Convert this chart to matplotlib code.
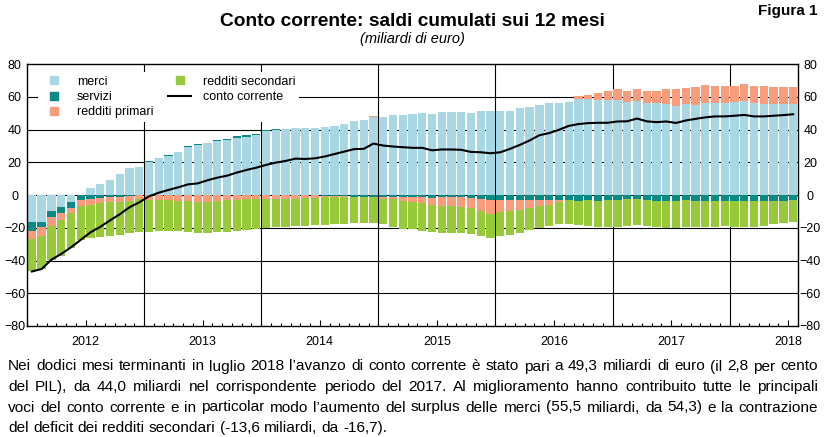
import numpy as np
import matplotlib.pyplot as plt
from matplotlib.lines import Line2D
from matplotlib import font_manager

plt.rcParams['font.family'] = ['Liberation Sans', 'DejaVu Sans']

# saldi cumulati sui 12 mesi, gen 2012 - lug 2018 (miliardi di euro)
merci = [-16.7, -16.3, -9.6, -7.1, -4.5, 0.3, 4.5, 6.7, 9.2, 12.9, 16.4, 17.3,
         20.4, 22.6, 24.0, 26.0, 29.4, 30.6, 31.5, 32.9, 33.8, 35.1, 35.7, 36.7,
         38.8, 39.7, 40.2, 40.8, 40.8, 40.8, 41.4, 42.0, 43.5, 45.1, 45.9, 47.4,
         47.6, 49.0, 49.0, 49.6, 50.1, 49.6, 50.6, 50.6, 50.6, 50.0, 51.2, 51.2,
         51.2, 51.2, 53.1, 53.7, 55.1, 56.1, 56.2, 56.7, 58.8, 58.8, 57.8, 57.8,
         57.8, 56.7, 57.1, 56.1, 56.1, 55.3, 54.3, 55.7, 55.1, 56.3, 56.3, 56.3,
         56.7, 57.6, 56.1, 55.7, 55.7, 55.7, 55.5]
servizi = [-5.5, -3.5, -4.1, -4.1, -3.5, -3.1, -2.4, -2.0, -1.4, -1.0, -0.4, -0.2,
           0.1, 0.1, 0.2, 0.2, 0.3, 0.5, 0.5, 0.6, 0.6, 0.7, 0.8, 0.8,
           0.6, 0.4, 0.2, 0.0, -0.2, -0.3, -0.4, -0.5, -0.7, -1.0, -1.0, -1.0,
           -1.2, -1.2, -1.4, -1.4, -1.4, -1.6, -1.4, -1.3, -1.4, -1.6, -2.2, -3.0,
           -3.0, -3.0, -3.0, -3.0, -3.0, -3.0, -3.0, -3.3, -3.4, -3.1, -3.4, -3.1,
           -3.1, -2.7, -2.7, -3.1, -3.5, -3.5, -3.5, -3.1, -3.5, -3.5, -3.5, -3.5,
           -3.5, -3.5, -3.5, -3.5, -3.5, -3.5, -3.0]
redditi_primari = [-4.7, -5.1, -5.1, -3.9, -3.0, -3.4, -3.6, -2.9, -3.1, -3.3, -3.1, -2.2,
                   -3.0, -2.8, -3.0, -3.4, -3.6, -4.2, -4.0, -3.5, -3.2, -3.0, -2.6, -2.5,
                   -2.5, -2.4, -2.4, -2.2, -1.8, -1.3, -1.0, -0.9, -0.7, -0.4, -0.3, 0.8,
                   -1.0, -1.5, -2.0, -2.7, -3.7, -4.5, -5.5, -5.6, -5.8, -6.5, -7.4, -8.5,
                   -7.5, -6.8, -6.4, -5.1, -3.8, -3.0, -1.5, 0.0, 1.5, 2.4, 4.4, 5.9,
                   6.7, 6.8, 7.8, 7.4, 7.6, 9.6, 10.2, 9.6, 10.8, 10.6, 10.2, 10.2,
                   9.8, 10.2, 10.4, 10.8, 10.2, 10.2, 10.4]
redditi_secondari = [-19.7, -20.3, -20.7, -21.9, -21.6, -20.7, -20.0, -20.5, -20.4, -20.1, -20.0, -20.0,
                     -19.8, -19.0, -18.8, -18.8, -19.0, -19.0, -19.0, -19.2, -19.2, -18.8, -18.6, -18.4,
                     -17.6, -17.4, -17.0, -16.8, -16.8, -17.0, -17.0, -16.6, -16.2, -15.8, -15.8, -16.4,
                     -15.6, -17.1, -17.2, -16.9, -16.7, -16.5, -16.3, -16.3, -16.0, -15.9, -15.6, -14.9,
                     -14.7, -14.6, -13.8, -13.2, -13.3, -13.1, -13.3, -14.5, -15.0, -15.9, -16.0, -16.3,
                     -16.3, -16.3, -15.7, -15.9, -15.9, -16.9, -16.7, -16.7, -15.9, -15.9, -15.9, -15.3,
                     -15.9, -15.9, -15.9, -15.3, -14.5, -13.8, -13.6]
conto_corrente = [-46.7, -45.2, -39.5, -36.0, -32.0, -27.4, -22.8, -19.5, -15.5, -11.8, -7.5, -4.5,
                  -0.8, 1.4, 3.1, 4.7, 6.5, 7.1, 9.0, 10.6, 11.8, 13.7, 15.3, 16.7,
                  18.4, 19.8, 20.8, 22.2, 22.0, 22.4, 23.5, 25.0, 26.5, 28.0, 28.2, 31.4,
                  30.2, 29.6, 29.2, 28.8, 28.8, 27.3, 27.8, 27.8, 27.6, 26.3, 26.1, 25.5,
                  26.1, 28.2, 30.6, 33.3, 36.5, 37.8, 39.8, 42.2, 43.3, 43.9, 44.1, 44.1,
                  44.9, 45.0, 46.7, 45.0, 44.5, 44.9, 44.0, 45.5, 46.5, 47.4, 48.0, 48.0,
                  48.4, 48.9, 48.0, 48.0, 48.4, 48.8, 49.3]
anni = ['2012', '2013', '2014', '2015', '2016', '2017', '2018']
mesi_per_anno = [12, 12, 12, 12, 12, 12, 7]

serie = [('merci', merci, '#a9d8e4'),
         ('servizi', servizi, '#0a8a84'),
         ('redditi primari', redditi_primari, '#f99c7c'),
         ('redditi secondari', redditi_secondari, '#97c93a')]

testo = [
    "Nei dodici mesi terminanti in luglio 2018 l\u2019avanzo di conto corrente \u00e8 stato pari a 49,3 miliardi di euro (il 2,8 per cento",
    "del PIL), da 44,0 miliardi nel corrispondente periodo del 2017.  Al miglioramento hanno contribuito tutte le principali",
    "voci del conto corrente e in particolar modo l\u2019aumento del surplus delle merci (55,5 miliardi, da 54,3) e la contrazione",
    "del deficit dei redditi secondari (-13,6 miliardi, da -16,7).",
]

W, H = 825, 437
fig = plt.figure(figsize=(W / 100, H / 100), dpi=100)
ax = fig.add_axes([27 / W, 1 - 326 / H, 771 / W, 262 / H])

n = len(merci)
x = np.arange(n)

# griglia dietro le barre
for v in range(-60, 61, 20):
    ax.axhline(v, color='black', lw=0.8, zorder=0.5)
confini = np.cumsum(mesi_per_anno)[:-1] - 0.5
for c in confini:
    ax.axvline(c, color='black', lw=0.8, zorder=0.5)

pos = np.zeros(n)
neg = np.zeros(n)
for nome, valori, colore in serie:
    v = np.array(valori)
    base = np.where(v >= 0, pos, neg)
    ax.bar(x, v, bottom=base, width=0.85, color=colore, linewidth=0, zorder=2)
    pos = pos + np.where(v >= 0, v, 0)
    neg = neg + np.where(v < 0, v, 0)

ax.plot(x, conto_corrente, color='black', lw=1.5, zorder=3)

ax.set_xlim(-0.5, n - 0.5)
ax.set_ylim(-80, 80)

inizi = np.concatenate([[0], np.cumsum(mesi_per_anno)[:-1]])
ax.set_xticks(inizi + 5.5)
ax.set_xticklabels(anni)
ax.set_xticks(np.arange(-0.5, n, 1), minor=True)
ax.tick_params(axis='x', which='major', direction='in', length=4.5, width=0.8, pad=7, labelsize=9)
ax.tick_params(axis='x', which='minor', direction='in', length=2.2, width=0.8)

ax.set_yticks(range(-80, 81, 20))
ax.tick_params(axis='y', length=0, labelsize=9, labelleft=True, labelright=True, pad=8.8)
for t in ax.yaxis.get_major_ticks():
    t.label1.set_horizontalalignment('center')
    t.label2.set_horizontalalignment('center')
for s in ax.spines.values():
    s.set_linewidth(1.0)

maniglie = [Line2D([], [], marker='s', ls='none', markersize=6, color=c, label=nm)
            for nm, _, c in serie]
maniglie.append(Line2D([], [], color='black', lw=1.5, label='conto corrente'))
leg = ax.legend(handles=maniglie, ncol=2, loc='upper left', bbox_to_anchor=(11 / 771, 1 - 8 / 262),
                frameon=True, facecolor='white', edgecolor='none', framealpha=1, fancybox=False,
                fontsize=9, handlelength=1.9, handletextpad=0.9, columnspacing=1.15,
                labelspacing=0.25, borderpad=0.3, borderaxespad=0)
leg.set_zorder(5)

fig.text(412 / W, 1 - 26.5 / H, 'Conto corrente: saldi cumulati sui 12 mesi', ha='center',
         va='baseline', fontsize=13.8, fontweight='bold')
fig.text(412 / W, 1 - 43.5 / H, '(miliardi di euro)', ha='center', va='baseline',
         fontsize=10.5, style='italic')
fig.text(818 / W, 1 - 15.5 / H, 'Figura 1', ha='right', va='baseline', fontsize=11, fontweight='bold')

# testo sotto il grafico, giustificato
nomi = {f.name for f in font_manager.fontManager.ttflist}
fam = 'Liberation Sans Narrow' if 'Liberation Sans Narrow' in nomi else 'Liberation Sans'
rend = fig.canvas.get_renderer()
x0, x1 = 8, 818


def larghezza(s, size):
    t = fig.text(0, 0, s, fontsize=size, family=fam)
    w = t.get_window_extent(rend).width
    t.remove()
    return w


size = 11.2
while max(larghezza(r, size) for r in testo[:3]) > (x1 - x0) * 0.985:
    size -= 0.1
spazio = larghezza('a a', size) - larghezza('aa', size)

basi = [370.5, 391, 411.5, 432]
for i, riga in enumerate(testo):
    parole = riga.split()
    oggetti = [fig.text(0, 1 - basi[i] / H, p, fontsize=size, family=fam, va='baseline') for p in parole]
    larg = [o.get_window_extent(rend).width for o in oggetti]
    if i < len(testo) - 1:
        gap = (x1 - x0 - sum(larg)) / (len(parole) - 1)
    else:
        gap = spazio
    xx = x0
    for o, w in zip(oggetti, larg):
        o.set_x(xx / W)
        xx += w + gap

fig.savefig('out.png', dpi=100)
